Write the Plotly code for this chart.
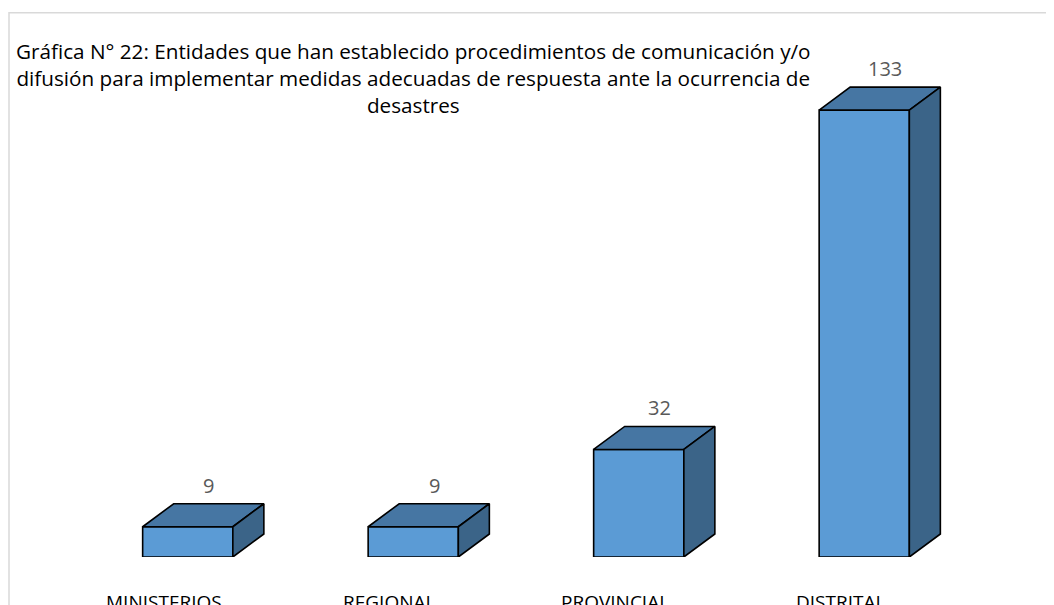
import plotly.graph_objects as go

# data
categories = ["MINISTERIOS", "REGIONAL", "PROVINCIAL", "DISTRITAL"]
values = [9, 9, 32, 133]

title_text = ("Gráfica N° 22: Entidades que han establecido procedimientos de comunicación y/o<br>"
              "difusión para implementar medidas adecuadas de respuesta ante la ocurrencia de<br>"
              "desastres")

# look
FRONT = "#5B9BD5"
TOP = "#4676A3"
SIDE = "#3B6488"
EDGE = "#000000"
FONT = "Open Sans, Liberation Sans, sans-serif"

# the page body adds an 8px margin, so the figure is sized to fit inside it
W, H = 1046, 597
M = dict(l=67, r=77, t=45, b=48)
BAR_W = 0.4
DEPTH_X = 0.1375   # category units
DEPTH_Y = 6.85     # value units
Y_MAX = 150

fig = go.Figure()
xs = list(range(len(categories)))

fig.add_trace(go.Bar(
    x=xs, y=values, width=BAR_W,
    marker=dict(color=FRONT, line=dict(color=EDGE, width=1.6)),
    hoverinfo="skip", showlegend=False,
))

# 3-D faces built from each bar's value
for x, v in zip(xs, values):
    x0, x1 = x - BAR_W / 2, x + BAR_W / 2
    fig.add_trace(go.Scatter(
        x=[x0, x0 + DEPTH_X, x1 + DEPTH_X, x1, x0],
        y=[v, v + DEPTH_Y, v + DEPTH_Y, v, v],
        mode="lines", fill="toself", fillcolor=TOP,
        line=dict(color=EDGE, width=1.6), hoverinfo="skip", showlegend=False,
    ))
    fig.add_trace(go.Scatter(
        x=[x1, x1 + DEPTH_X, x1 + DEPTH_X, x1, x1],
        y=[0, DEPTH_Y, v + DEPTH_Y, v, 0],
        mode="lines", fill="toself", fillcolor=SIDE,
        line=dict(color=EDGE, width=1.6), hoverinfo="skip", showlegend=False,
    ))
    fig.add_annotation(
        x=x, y=v + DEPTH_Y, text=str(v), showarrow=False,
        xshift=21, yshift=3, yanchor="bottom",
        font=dict(family=FONT, size=20, color="#595959"),
    )

for x, c in zip(xs, categories):
    fig.add_annotation(
        x=x, y=0, yref="paper", text=c, showarrow=False,
        xshift=-24, yshift=-30, yanchor="top",
        font=dict(family=FONT, size=19, color="#000000"),
    )

fig.add_annotation(
    x=0.375, y=1.0, xref="paper", yref="paper", text=title_text,
    showarrow=False, xanchor="center", yanchor="top", yshift=18,
    font=dict(family=FONT, size=20.7, color="#000000"),
)

pw = W - M["l"] - M["r"]
ph = H - M["t"] - M["b"]
fig.add_shape(
    type="rect", xref="paper", yref="paper",
    x0=(1 - M["l"]) / pw, x1=(1043 - M["l"]) / pw,
    y0=-0.2, y1=(H - M["b"] - 4.7) / ph,
    line=dict(color="#D9D9D9", width=1.5), layer="below",
)

fig.update_layout(
    width=W, height=H, margin=M,
    paper_bgcolor="white", plot_bgcolor="white",
    font=dict(family=FONT),
    xaxis=dict(range=[-0.5, 3.5], visible=False),
    yaxis=dict(range=[0, Y_MAX], visible=False),
)

fig.write_html("out.html")
